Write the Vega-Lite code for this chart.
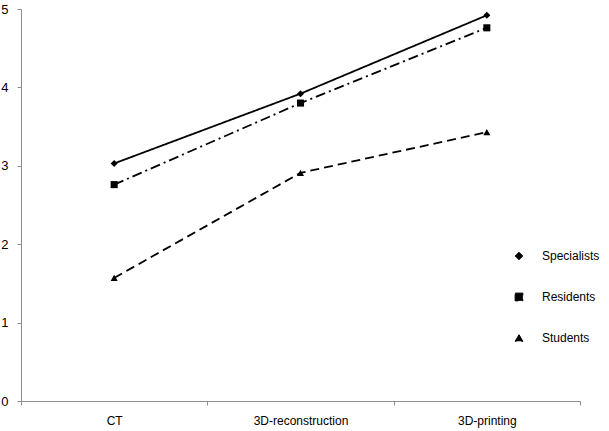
{
  "$schema": "https://vega.github.io/schema/vega-lite/v6.json",
  "width": 559,
  "height": 392,
  "autosize": {"type": "none"},
  "padding": {"left": 21, "top": 9, "right": 29, "bottom": 30},
  "background": "white",
  "config": {"view": {"stroke": null}, "font": "Liberation Sans"},
  "data": {
    "values": [
      {"group": "Specialists", "modality": "CT", "i": 0, "score": 3.03},
      {"group": "Specialists", "modality": "3D-reconstruction", "i": 1, "score": 3.92},
      {"group": "Specialists", "modality": "3D-printing", "i": 2, "score": 4.92},
      {"group": "Residents", "modality": "CT", "i": 0, "score": 2.76},
      {"group": "Residents", "modality": "3D-reconstruction", "i": 1, "score": 3.8},
      {"group": "Residents", "modality": "3D-printing", "i": 2, "score": 4.76},
      {"group": "Students", "modality": "CT", "i": 0, "score": 1.57},
      {"group": "Students", "modality": "3D-reconstruction", "i": 1, "score": 2.91},
      {"group": "Students", "modality": "3D-printing", "i": 2, "score": 3.43}
    ]
  },
  "encoding": {
    "x": {
      "field": "modality", "type": "nominal",
      "sort": ["CT", "3D-reconstruction", "3D-printing"],
      "scale": {"type": "band", "paddingInner": 0, "paddingOuter": 0},
      "axis": {
        "title": null, "labelAngle": 0, "tickBand": "extent", "tickSize": 4,
        "labelPadding": 10, "labelFontSize": 12, "labelColor": "#000000",
        "domainColor": "#8c8c8c", "tickColor": "#8c8c8c", "grid": false
      }
    },
    "y": {
      "field": "score", "type": "quantitative",
      "scale": {"domain": [0, 5], "nice": false, "zero": true},
      "axis": {
        "title": null, "values": [0, 1, 2, 3, 4, 5], "grid": false, "tickSize": 4,
        "labelPadding": 9, "labelFontSize": 13, "labelColor": "#000000",
        "domainColor": "#8c8c8c", "tickColor": "#8c8c8c"
      }
    }
  },
  "layer": [
    {
      "mark": {"type": "line", "strokeWidth": 1.8, "color": "#000000"},
      "encoding": {
        "order": {"field": "i", "type": "quantitative"},
        "strokeDash": {
          "field": "group", "type": "nominal",
          "scale": {"domain": ["Specialists", "Residents", "Students"], "range": [[1, 0], [10, 4, 2, 4], [9, 5]]}
        }
      }
    },
    {
      "mark": {"type": "point", "filled": true, "color": "#000000", "opacity": 1, "size": 50},
      "encoding": {
        "shape": {
          "field": "group", "type": "nominal",
          "scale": {"domain": ["Specialists", "Residents", "Students"], "range": ["diamond", "square", "triangle-up"]},
          "legend": {
            "title": null, "orient": "none", "legendX": 492, "legendY": 241,
            "padding": 0, "symbolSize": 60, "rowPadding": 29, "labelOffset": 17,
            "labelFontSize": 12, "labelColor": "#000000",
            "symbolStrokeWidth": 1, "symbolStrokeColor": "#000000", "symbolFillColor": "#000000",
            "encode": {
              "symbols": {
                "update": {
                  "strokeDash": {"value": [1, 0]},
                  "opacity": {"value": 1}
                }
              }
            }
          }
        }
      }
    }
  ]
}
